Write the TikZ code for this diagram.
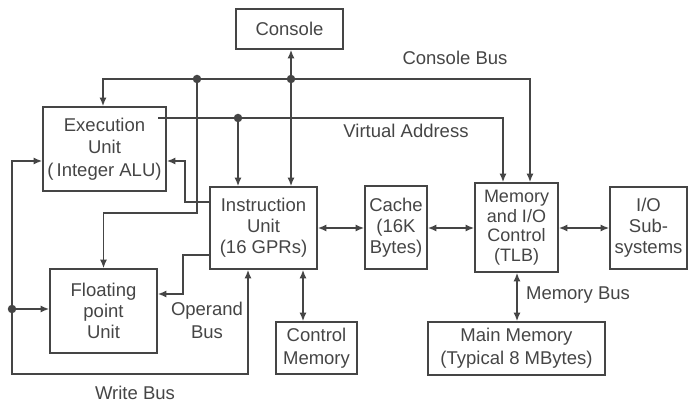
\documentclass[tikz,border=0pt]{standalone}
\usepackage{fontspec}
\setmainfont{Liberation Sans}
\usetikzlibrary{arrows.meta,calc}
\definecolor{ink}{HTML}{454545}
\tikzset{
  unit/.style={draw=ink, line width=1.6pt, text=ink, align=center, inner sep=0pt,
    font=\fontsize{18.5}{21}\selectfont},
  wire/.style={draw=ink, line width=1.5pt},
  arr/.style={wire, -{Latex[length=8.5pt,width=7pt]}},
  both/.style={wire, {Latex[length=8.5pt,width=7pt]}-{Latex[length=8.5pt,width=7pt]}},
  junction/.style={circle, fill=ink, inner sep=0pt, minimum size=8.5pt},
  lbl/.style={text=ink, align=center, inner sep=0pt, font=\fontsize{18.5}{21}\selectfont}
}
\begin{document}
\begin{tikzpicture}[x=1pt, y=-1pt]
\useasboundingbox (0,0) rectangle (688,403);

% functional blocks
\node[unit, minimum width=107pt, minimum height=40pt] (con) at (289.5,29) {Console};
\node[unit, minimum width=123pt, minimum height=84pt, font=\fontsize{18.5}{22.5}\selectfont] (ex) at (104.5,149) {Execution\\Unit\\(\,Integer ALU)};
\node[unit, minimum width=107pt, minimum height=82pt] (ins) at (263.5,228) {Instruction\\Unit\\(16 GPRs)};
\node[unit, minimum width=107pt, minimum height=84pt] (fpu) at (103.5,311) {Floating\\point\\Unit};
\node[unit, minimum width=81pt, minimum height=52pt, font=\fontsize{18.5}{22.5}\selectfont] (ctl) at (316.5,348) {Control\\Memory};
\node[unit, minimum width=62pt, minimum height=83pt] (cache) at (396,227.5) {Cache\\(16K\\Bytes)};
\node[unit, minimum width=83pt, minimum height=89pt, font=\fontsize{18}{19.5}\selectfont] (mem) at (516.5,227.5) {Memory\\and I/O\\Control\\(TLB)};
\node[unit, minimum width=77pt, minimum height=82pt] (io) at (648.5,228) {I/O\\Sub-\\systems};
\node[unit, minimum width=177pt, minimum height=53pt, font=\fontsize{18.5}{23}\selectfont] (main) at (516.5,348.5) {Main Memory\\(Typical 8 MBytes)};

% bus corners and junctions
\coordinate (cbL) at (103,79);
\coordinate (cbR) at (530,79);
\coordinate (j1) at (197,79);
\coordinate (j2) at (291,79);
\coordinate (fpk) at (197,213);
\coordinate (vaL) at (158,118);
\coordinate (vaR) at (503,118);
\coordinate (j3) at (238,118);
\coordinate (ie) at (185,161);
\coordinate (iek) at (185,202);
\coordinate (opk) at (183,255);
\coordinate (opf) at (183,294);
\coordinate (wbR) at (248,374);
\coordinate (wbL) at (12,374);
\coordinate (wbT) at (12,161);
\coordinate (wj) at (12,309);
\coordinate (hb) at (0,228);
\coordinate (cmx) at (303,0);
\coordinate (mmx) at (517,0);

% console bus
\draw[both] (ex.north -| cbL) |- (cbR) -- (mem.north -| cbR);
\draw[both] (con.south -| j2) -- (ins.north -| j2);
\draw[arr] (j1) -- (fpk) -| (fpu.north);

% virtual address
\draw[arr] (vaL) -- (vaR) -- (mem.north -| vaR);
\draw[arr] (j3) -- (ins.north -| j3);

% instruction unit to execution unit
\draw[arr] (ins.west |- iek) -- (iek) -- (ie) -- (ex.east |- ie);

% operand bus
\draw[arr] (ins.west |- opk) -- (opk) -- (opf) -- (fpu.east |- opf);

% write bus
\draw[both] (ins.south -| wbR) -- (wbR) -- (wbL) -- (wbT) -- (ex.west |- wbT);
\draw[arr] (wj) -- (fpu.west |- wj);

% memory path
\draw[both] (ins.east |- hb) -- (cache.west |- hb);
\draw[both] (cache.east |- hb) -- (mem.west |- hb);
\draw[both] (mem.east |- hb) -- (io.west |- hb);
\draw[both] (ins.south -| cmx) -- (ctl.north -| cmx);
\draw[both] (mem.south -| mmx) -- (main.north -| mmx);

% junction dots
\node[junction] (d1) at (j1) {};
\node[junction] (d2) at (j2) {};
\node[junction] (d3) at (j3) {};
\node[junction] (d4) at (wj) {};

% bus labels
\node[lbl] (lcb) at (455,58) {Console Bus};
\node[lbl] (lva) at (406,131) {Virtual Address};
\node[lbl] (lmb) at (578,295) {Memory Bus};
\node[lbl, font=\fontsize{18.5}{23}\selectfont] (lob) at (207,320) {Operand\\Bus};
\node[lbl] (lwb) at (135,393) {Write Bus};
\end{tikzpicture}
\end{document}
